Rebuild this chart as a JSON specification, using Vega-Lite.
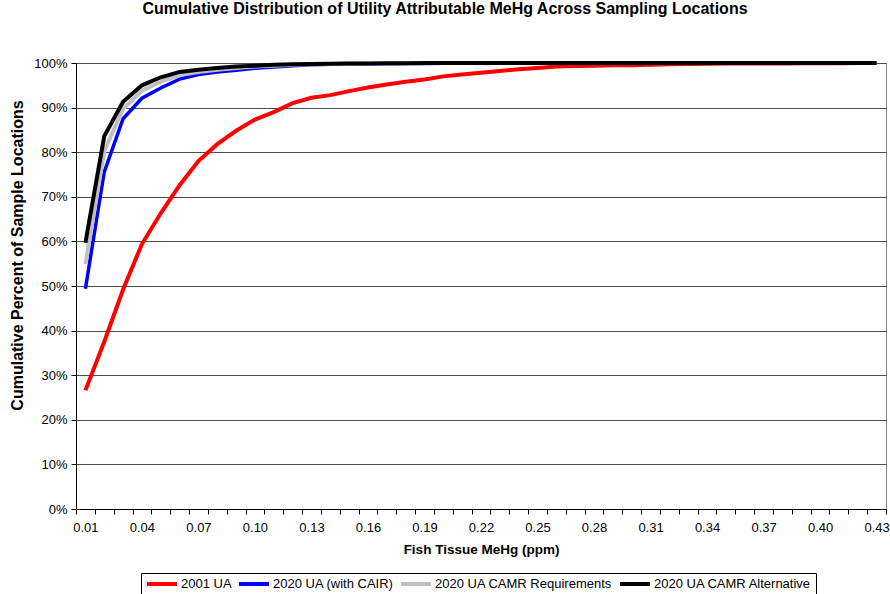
{
  "$schema": "https://vega.github.io/schema/vega-lite/v6.json",
  "width": 810,
  "height": 446,
  "autosize": {"type": "none"},
  "padding": {"left": 76, "top": 63, "right": 4, "bottom": 85},
  "background": "white",
  "title": {
    "text": "Cumulative Distribution of Utility Attributable MeHg Across Sampling Locations",
    "font": "Liberation Sans",
    "fontSize": 16,
    "fontWeight": "bold",
    "color": "black",
    "anchor": "middle",
    "dx": -36,
    "offset": 38
  },
  "config": {
    "view": {"stroke": "#808080", "strokeWidth": 1},
    "font": "Liberation Sans"
  },
  "data": {
    "values": [
      {"x": "0.01", "2001 UA": 26.6, "2020 UA (with CAIR)": 49.4, "2020 UA CAMR Requirements": 54.9, "2020 UA CAMR Alternative": 59.7},
      {"x": "0.02", "2001 UA": 37.5, "2020 UA (with CAIR)": 75.6, "2020 UA CAMR Requirements": 80.3, "2020 UA CAMR Alternative": 83.6},
      {"x": "0.03", "2001 UA": 49.2, "2020 UA (with CAIR)": 87.5, "2020 UA CAMR Requirements": 89.7, "2020 UA CAMR Alternative": 91.3},
      {"x": "0.04", "2001 UA": 59.4, "2020 UA (with CAIR)": 92.1, "2020 UA CAMR Requirements": 93.8, "2020 UA CAMR Alternative": 95.0},
      {"x": "0.05", "2001 UA": 66.3, "2020 UA (with CAIR)": 94.4, "2020 UA CAMR Requirements": 95.8, "2020 UA CAMR Alternative": 96.8},
      {"x": "0.06", "2001 UA": 72.6, "2020 UA (with CAIR)": 96.4, "2020 UA CAMR Requirements": 97.3, "2020 UA CAMR Alternative": 98.0},
      {"x": "0.07", "2001 UA": 78.0, "2020 UA (with CAIR)": 97.4, "2020 UA CAMR Requirements": 98.0, "2020 UA CAMR Alternative": 98.5},
      {"x": "0.08", "2001 UA": 81.8, "2020 UA (with CAIR)": 98.0, "2020 UA CAMR Requirements": 98.5, "2020 UA CAMR Alternative": 98.9},
      {"x": "0.09", "2001 UA": 84.8, "2020 UA (with CAIR)": 98.4, "2020 UA CAMR Requirements": 98.9, "2020 UA CAMR Alternative": 99.2},
      {"x": "0.10", "2001 UA": 87.3, "2020 UA (with CAIR)": 98.8, "2020 UA CAMR Requirements": 99.2, "2020 UA CAMR Alternative": 99.4},
      {"x": "0.11", "2001 UA": 89.0, "2020 UA (with CAIR)": 99.1, "2020 UA CAMR Requirements": 99.4, "2020 UA CAMR Alternative": 99.6},
      {"x": "0.12", "2001 UA": 91.0, "2020 UA (with CAIR)": 99.4, "2020 UA CAMR Requirements": 99.6, "2020 UA CAMR Alternative": 99.7},
      {"x": "0.13", "2001 UA": 92.2, "2020 UA (with CAIR)": 99.6, "2020 UA CAMR Requirements": 99.7, "2020 UA CAMR Alternative": 99.8},
      {"x": "0.14", "2001 UA": 92.8, "2020 UA (with CAIR)": 99.7, "2020 UA CAMR Requirements": 99.8, "2020 UA CAMR Alternative": 99.85},
      {"x": "0.15", "2001 UA": 93.7, "2020 UA (with CAIR)": 99.75, "2020 UA CAMR Requirements": 99.85, "2020 UA CAMR Alternative": 99.9},
      {"x": "0.16", "2001 UA": 94.5, "2020 UA (with CAIR)": 99.8, "2020 UA CAMR Requirements": 99.9, "2020 UA CAMR Alternative": 99.9},
      {"x": "0.17", "2001 UA": 95.2, "2020 UA (with CAIR)": 99.85, "2020 UA CAMR Requirements": 99.9, "2020 UA CAMR Alternative": 99.95},
      {"x": "0.18", "2001 UA": 95.8, "2020 UA (with CAIR)": 99.9, "2020 UA CAMR Requirements": 99.95, "2020 UA CAMR Alternative": 99.95},
      {"x": "0.19", "2001 UA": 96.3, "2020 UA (with CAIR)": 99.9, "2020 UA CAMR Requirements": 99.95, "2020 UA CAMR Alternative": 100},
      {"x": "0.20", "2001 UA": 97.0, "2020 UA (with CAIR)": 99.95, "2020 UA CAMR Requirements": 100, "2020 UA CAMR Alternative": 100},
      {"x": "0.21", "2001 UA": 97.4, "2020 UA (with CAIR)": 99.95, "2020 UA CAMR Requirements": 100, "2020 UA CAMR Alternative": 100},
      {"x": "0.22", "2001 UA": 97.8, "2020 UA (with CAIR)": 100, "2020 UA CAMR Requirements": 100, "2020 UA CAMR Alternative": 100},
      {"x": "0.23", "2001 UA": 98.2, "2020 UA (with CAIR)": 100, "2020 UA CAMR Requirements": 100, "2020 UA CAMR Alternative": 100},
      {"x": "0.24", "2001 UA": 98.6, "2020 UA (with CAIR)": 100, "2020 UA CAMR Requirements": 100, "2020 UA CAMR Alternative": 100},
      {"x": "0.25", "2001 UA": 98.9, "2020 UA (with CAIR)": 100, "2020 UA CAMR Requirements": 100, "2020 UA CAMR Alternative": 100},
      {"x": "0.26", "2001 UA": 99.2, "2020 UA (with CAIR)": 100, "2020 UA CAMR Requirements": 100, "2020 UA CAMR Alternative": 100},
      {"x": "0.27", "2001 UA": 99.3, "2020 UA (with CAIR)": 100, "2020 UA CAMR Requirements": 100, "2020 UA CAMR Alternative": 100},
      {"x": "0.28", "2001 UA": 99.4, "2020 UA (with CAIR)": 100, "2020 UA CAMR Requirements": 100, "2020 UA CAMR Alternative": 100},
      {"x": "0.29", "2001 UA": 99.5, "2020 UA (with CAIR)": 100, "2020 UA CAMR Requirements": 100, "2020 UA CAMR Alternative": 100},
      {"x": "0.30", "2001 UA": 99.5, "2020 UA (with CAIR)": 100, "2020 UA CAMR Requirements": 100, "2020 UA CAMR Alternative": 100},
      {"x": "0.31", "2001 UA": 99.6, "2020 UA (with CAIR)": 100, "2020 UA CAMR Requirements": 100, "2020 UA CAMR Alternative": 100},
      {"x": "0.32", "2001 UA": 99.7, "2020 UA (with CAIR)": 100, "2020 UA CAMR Requirements": 100, "2020 UA CAMR Alternative": 100},
      {"x": "0.33", "2001 UA": 99.8, "2020 UA (with CAIR)": 100, "2020 UA CAMR Requirements": 100, "2020 UA CAMR Alternative": 100},
      {"x": "0.34", "2001 UA": 99.85, "2020 UA (with CAIR)": 100, "2020 UA CAMR Requirements": 100, "2020 UA CAMR Alternative": 100},
      {"x": "0.35", "2001 UA": 99.9, "2020 UA (with CAIR)": 100, "2020 UA CAMR Requirements": 100, "2020 UA CAMR Alternative": 100},
      {"x": "0.36", "2001 UA": 99.9, "2020 UA (with CAIR)": 100, "2020 UA CAMR Requirements": 100, "2020 UA CAMR Alternative": 100},
      {"x": "0.37", "2001 UA": 99.9, "2020 UA (with CAIR)": 100, "2020 UA CAMR Requirements": 100, "2020 UA CAMR Alternative": 100},
      {"x": "0.38", "2001 UA": 99.9, "2020 UA (with CAIR)": 100, "2020 UA CAMR Requirements": 100, "2020 UA CAMR Alternative": 100},
      {"x": "0.39", "2001 UA": 99.95, "2020 UA (with CAIR)": 100, "2020 UA CAMR Requirements": 100, "2020 UA CAMR Alternative": 100},
      {"x": "0.40", "2001 UA": 99.95, "2020 UA (with CAIR)": 100, "2020 UA CAMR Requirements": 100, "2020 UA CAMR Alternative": 100},
      {"x": "0.41", "2001 UA": 99.95, "2020 UA (with CAIR)": 100, "2020 UA CAMR Requirements": 100, "2020 UA CAMR Alternative": 100},
      {"x": "0.42", "2001 UA": 100, "2020 UA (with CAIR)": 100, "2020 UA CAMR Requirements": 100, "2020 UA CAMR Alternative": 100},
      {"x": "0.43", "2001 UA": 100, "2020 UA (with CAIR)": 100, "2020 UA CAMR Requirements": 100, "2020 UA CAMR Alternative": 100}
    ]
  },
  "transform": [
    {"fold": ["2001 UA", "2020 UA (with CAIR)", "2020 UA CAMR Requirements", "2020 UA CAMR Alternative"], "as": ["series", "value"]}
  ],
  "encoding": {
    "x": {
      "field": "x",
      "type": "ordinal",
      "bandPosition": 0.5,
      "scale": {"type": "band", "paddingInner": 0, "paddingOuter": 0},
      "axis": {
        "title": "Fish Tissue MeHg (ppm)",
        "titleFont": "Liberation Sans",
        "titleFontSize": 13.5,
        "titleFontWeight": "bold",
        "titleColor": "black",
        "titlePadding": 8,
        "labelFont": "Liberation Sans",
        "labelFontSize": 13,
        "labelColor": "black",
        "labelAngle": 0,
        "labelPadding": 7,
        "labelOverlap": false,
        "labelExpr": "indexof(['0.01','0.04','0.07','0.10','0.13','0.16','0.19','0.22','0.25','0.28','0.31','0.34','0.37','0.40','0.43'], datum.label) >= 0 ? datum.label : ''",
        "tickBand": "extent",
        "tickSize": 5,
        "tickColor": "black",
        "domainColor": "black",
        "domainWidth": 1,
        "grid": false
      }
    },
    "y": {
      "field": "value",
      "type": "quantitative",
      "scale": {"domain": [0, 100], "nice": false},
      "axis": {
        "title": "Cumulative Percent of Sample Locations",
        "titleFont": "Liberation Sans",
        "titleFontSize": 16,
        "titleFontWeight": "bold",
        "titleColor": "black",
        "titlePadding": 8,
        "titleY": 192,
        "values": [0, 10, 20, 30, 40, 50, 60, 70, 80, 90, 100],
        "labelExpr": "datum.value + '%'",
        "labelFont": "Liberation Sans",
        "labelFontSize": 13,
        "labelColor": "black",
        "labelPadding": 4,
        "tickSize": 5,
        "tickColor": "black",
        "domainColor": "black",
        "grid": true,
        "gridColor": "#4d4d4d",
        "gridWidth": 1
      }
    },
    "color": {
      "field": "series",
      "type": "nominal",
      "scale": {
        "domain": ["2001 UA", "2020 UA (with CAIR)", "2020 UA CAMR Requirements", "2020 UA CAMR Alternative"],
        "range": ["#ff0000", "#0000ff", "#c0c0c0", "#000000"]
      },
      "legend": {
        "title": null,
        "orient": "none",
        "legendX": 65,
        "legendY": 510,
        "direction": "horizontal",
        "columns": 4,
        "symbolType": "M-1,0H5",
        "symbolSize": 100,
        "symbolStrokeWidth": 4,
        "labelFont": "Liberation Sans",
        "labelFontSize": 13,
        "labelColor": "black",
        "labelLimit": 0,
        "labelOffset": 22,
        "columnPadding": -1,
        "padding": 4,
        "strokeColor": "black",
        "fillColor": "white"
      }
    }
  },
  "layer": [
    {"transform": [{"filter": "datum.series == '2001 UA'"}], "mark": {"type": "line", "strokeWidth": 4}},
    {"transform": [{"filter": "datum.series == '2020 UA (with CAIR)'"}], "mark": {"type": "line", "strokeWidth": 3.5}},
    {"transform": [{"filter": "datum.series == '2020 UA CAMR Requirements'"}], "mark": {"type": "line", "strokeWidth": 4}},
    {"transform": [{"filter": "datum.series == '2020 UA CAMR Alternative'"}], "mark": {"type": "line", "strokeWidth": 4}}
  ]
}
